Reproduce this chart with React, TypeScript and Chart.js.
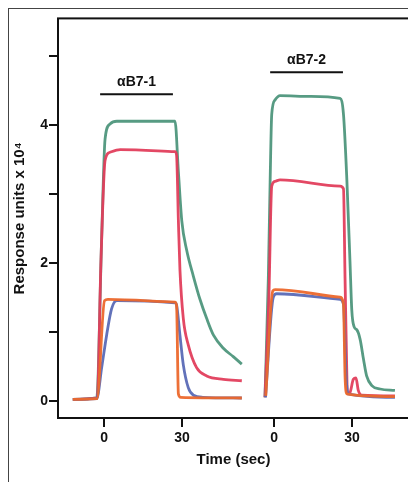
import React, { useEffect, useRef } from "react";
import { Chart, registerables } from "chart.js";

Chart.register(...registerables);

// Panel 2 is drawn to the right of panel 1 on the same time axis, shifted by this offset (sec)
const PANEL2_OFFSET = 65.4;

// x tick positions (sec, on the shared axis) and their labels
const X_TICK_POS = [0, 30, PANEL2_OFFSET, PANEL2_OFFSET + 30];
const X_TICK_LABELS = ["0", "30", "0", "30"];
const Y_TICK_LABELED = [0, 2, 4];

// Panel 1 (αB7-1)
const P1_GREEN_T = [-12, -2.8, -0.9, 0.4, 2.3, 4.9, 27.3, 28.6, 29.9, 31.8, 34.4, 36.9, 39.5, 42.1, 45.9, 49.7, 53];
const P1_GREEN_V = [0.03, 0.05, 2.38, 3.8, 4.02, 4.06, 4.06, 3.33, 2.62, 2.19, 1.81, 1.48, 1.2, 0.96, 0.77, 0.65, 0.54];
const P1_RED_T = [-12, -2.6, -1.2, 0.4, 2.3, 6.2, 27.3, 27.9, 28.6, 29.2, 30.5, 32.4, 35.6, 39.5, 45.9, 53];
const P1_RED_V = [0.03, 0.05, 2.0, 3.49, 3.61, 3.65, 3.62, 3.57, 2.62, 1.91, 1.2, 0.82, 0.49, 0.37, 0.32, 0.3];
const P1_ORANGE_T = [-12, -2.7, 0.2, 1.5, 27.3, 27.9, 28.6, 29.5, 53];
const P1_ORANGE_V = [0.03, 0.04, 1.46, 1.48, 1.44, 1.39, 0.11, 0.06, 0.05];
const P1_BLUE_T = [-12, -2.8, -0.9, 1.0, 2.9, 4.9, 27.3, 27.9, 29.2, 30.5, 32.4, 34.4, 38, 53];
const P1_BLUE_V = [0.03, 0.04, 0.49, 0.96, 1.34, 1.46, 1.43, 1.4, 0.96, 0.53, 0.2, 0.09, 0.06, 0.05];

// Panel 2 (αB7-2)
const P2_GREEN_T = [-3.5, -2.2, -1.5, -0.9, 0.4, 2.3, 13.8, 25.4, 26.7, 28, 29.2, 29.9, 30.8, 31.8, 33.1, 34.4, 35.6, 37.6, 40.8, 46.5];
const P2_GREEN_V = [0.06, 1.79, 3.21, 4.16, 4.37, 4.43, 4.42, 4.39, 4.16, 3.21, 2.03, 1.32, 1.08, 1.04, 0.9, 0.61, 0.37, 0.23, 0.18, 0.16];
const P2_RED_T = [-3.5, -2.0, -0.9, 0.4, 2.3, 25.4, 26.7, 27.3, 28, 28.2, 29.2, 30.5, 31.5, 32.4, 33.7, 46.5];
const P2_RED_V = [0.06, 1.5, 3.12, 3.19, 3.21, 3.12, 3.08, 1.79, 0.37, 0.11, 0.13, 0.32, 0.34, 0.16, 0.09, 0.08];
const P2_ORANGE_T = [-3.2, -0.5, 0.4, 25.4, 26.7, 27.3, 28, 46.5];
const P2_ORANGE_V = [0.08, 1.6, 1.62, 1.51, 1.41, 0.37, 0.11, 0.07];
const P2_BLUE_T = [-3.3, -0.3, 1.0, 25.4, 26.7, 27.7, 28.5, 46.5];
const P2_BLUE_V = [0.06, 1.51, 1.56, 1.48, 1.41, 0.37, 0.11, 0.06];

// Injection bars
const BAR_LABELS = ["αB7-1", "αB7-2"];
const BAR_START = [-1.5, -1.5];
const BAR_END = [26.5, 26.5];
const BAR_LEVEL = [4.45, 4.77];
const BAR_PANEL_OFFSET = [0, PANEL2_OFFSET];

const COLORS = {
  green: "rgba(78,150,124,0.95)",
  red: "rgba(226,62,92,0.95)",
  orange: "rgba(236,104,44,0.95)",
  blue: "rgba(90,106,182,0.95)",
};

const FONT = "'Liberation Sans', Arial, sans-serif";

function pts(t: number[], v: number[], off: number) {
  return t.map((x, i) => ({ x: x + off, y: v[i] }));
}

const frameAndBars = {
  id: "frameAndBars",
  afterDraw(chart: any) {
    const { ctx, chartArea, scales } = chart;
    ctx.save();
    ctx.strokeStyle = "#111";
    ctx.lineWidth = 2;
    ctx.strokeRect(chartArea.left, chartArea.top, chartArea.right - chartArea.left, chartArea.bottom - chartArea.top);
    BAR_LABELS.forEach((label, i) => {
      const x1 = scales.x.getPixelForValue(BAR_START[i] + BAR_PANEL_OFFSET[i]);
      const x2 = scales.x.getPixelForValue(BAR_END[i] + BAR_PANEL_OFFSET[i]);
      const y = scales.y.getPixelForValue(BAR_LEVEL[i]);
      ctx.beginPath();
      ctx.moveTo(x1, y);
      ctx.lineTo(x2, y);
      ctx.lineWidth = 2;
      ctx.stroke();
      ctx.fillStyle = "#111";
      ctx.font = `bold 14px ${FONT}`;
      ctx.textAlign = "center";
      ctx.textBaseline = "middle";
      ctx.fillText(label, (x1 + x2) / 2, y - 12);
    });
    ctx.restore();
  },
};

export default function App() {
  const ref = useRef<HTMLCanvasElement>(null);
  useEffect(() => {
    if (!ref.current) return;
    const ds = (t: number[], v: number[], off: number, color: string) => ({
      data: pts(t, v, off),
      borderColor: color,
      backgroundColor: color,
      borderWidth: 2.8,
      pointRadius: 0,
      fill: false,
      cubicInterpolationMode: "monotone" as const,
    });
    const chart = new Chart(ref.current, {
      type: "line",
      data: {
        datasets: [
          ds(P1_ORANGE_T, P1_ORANGE_V, 0, COLORS.orange),
          ds(P1_BLUE_T, P1_BLUE_V, 0, COLORS.blue),
          ds(P1_RED_T, P1_RED_V, 0, COLORS.red),
          ds(P1_GREEN_T, P1_GREEN_V, 0, COLORS.green),
          ds(P2_ORANGE_T, P2_ORANGE_V, PANEL2_OFFSET, COLORS.orange),
          ds(P2_BLUE_T, P2_BLUE_V, PANEL2_OFFSET, COLORS.blue),
          ds(P2_RED_T, P2_RED_V, PANEL2_OFFSET, COLORS.red),
          ds(P2_GREEN_T, P2_GREEN_V, PANEL2_OFFSET, COLORS.green),
        ],
      },
      options: {
        responsive: false,
        animation: false,
        layout: { padding: { top: 1, right: 7, left: 0, bottom: 11 } },
        plugins: { legend: { display: false }, tooltip: { enabled: false } },
        scales: {
          x: {
            type: "linear",
            min: -17.7,
            max: 117.3,
            afterBuildTicks: (scale: any) => {
              scale.ticks = X_TICK_POS.map((v) => ({ value: v }));
            },
            afterFit: (scale: any) => {
              scale.height = 53;
            },
            border: { display: false },
            grid: { drawOnChartArea: false, drawTicks: true, tickLength: 9, lineWidth: 2, color: "#111" },
            ticks: {
              autoSkip: false,
              maxRotation: 0,
              padding: 3,
              color: "#111",
              font: { family: FONT, size: 14, weight: "bold" },
              callback: (_v: any, i: number) => X_TICK_LABELS[i],
            },
            title: {
              display: true,
              text: "Time (sec)",
              color: "#111",
              font: { family: FONT, size: 15, weight: "bold" },
              padding: { top: 0, bottom: 2 },
            },
          },
          y: {
            type: "linear",
            min: -0.24,
            max: 5.55,
            afterBuildTicks: (scale: any) => {
              scale.ticks = [0, 1, 2, 3, 4, 5].map((v) => ({ value: v }));
            },
            afterFit: (scale: any) => {
              scale.width = 49;
            },
            border: { display: false },
            grid: { drawOnChartArea: false, drawTicks: true, tickLength: 9, lineWidth: 2, color: "#111" },
            ticks: {
              autoSkip: false,
              padding: 1,
              color: "#111",
              font: { family: FONT, size: 14, weight: "bold" },
              callback: (v: any) => (Y_TICK_LABELED.includes(Number(v)) ? String(v) : ""),
            },
            title: {
              display: true,
              text: "Response units x 10⁴",
              color: "#111",
              font: { family: FONT, size: 15, weight: "bold" },
              padding: { top: 2, bottom: 0 },
            },
          },
        },
      },
      plugins: [frameAndBars],
    });
    return () => chart.destroy();
  }, []);

  return (
    <div
      style={{
        position: "relative",
        width: 407,
        height: 473,
        borderLeft: "1px solid #444",
        borderTop: "1px solid #444",
      }}
    >
      <canvas ref={ref} width={407} height={473} style={{ display: "block" }} />
    </div>
  );
}
